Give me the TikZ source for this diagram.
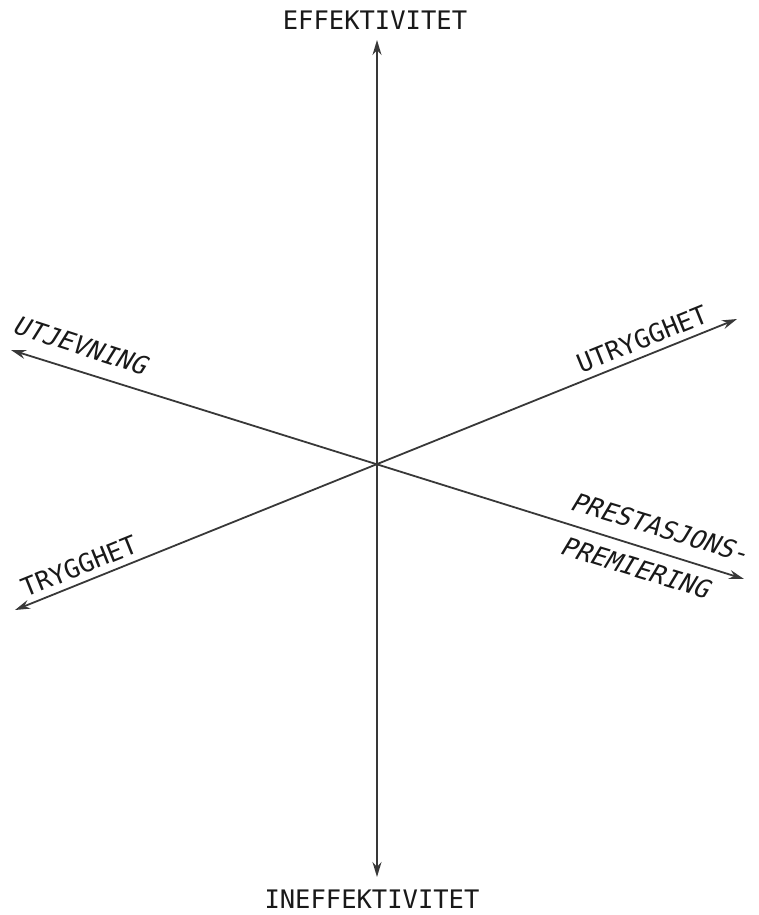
\documentclass[tikz,border=0pt]{standalone}
\usepackage{fontspec}
\usetikzlibrary{arrows.meta}
\newfontfamily\axisfont{DejaVu Sans Mono}

\begin{document}
\begin{tikzpicture}[x=1pt,y=-1pt,>={Stealth[length=15pt,width=9pt]},ax/.style={<->,line width=1.8pt,draw=black!78},lbl/.style={font=\axisfont\fontsize{25.5}{28}\selectfont,inner sep=0pt,text=black!90},ital/.style={xslant=0.25}]
\useasboundingbox (0,0) rectangle (759,915);
% axis end points
\coordinate (o) at (377,464);
\coordinate (n) at (377,40);
\coordinate (s) at (377,877);
\coordinate (ul) at (11,350);
\coordinate (lr) at (744,579);
\coordinate (ur) at (737,319);
\coordinate (ll) at (15,610);
\draw[ax](n)--(s);\draw[ax](ul)--(lr);\draw[ax](ll)--(ur);
% labels
\node[lbl,anchor=base] (eff) at (375,30){EFFEKTIVITET};
\node[lbl,anchor=base] (ineff) at (372,908){INEFFEKTIVITET};
\node[lbl,rotate=-18,ital] (utj) at (82,346){UTJEVNING};
\node[lbl,rotate=22] (utr) at (642,339){UTRYGGHET};
\node[lbl,rotate=22] (tryg) at (79,566){TRYGGHET};
\node[lbl,rotate=-17,ital] (prest) at (662,528){PRESTASJONS-};
\node[lbl,rotate=-17,ital] (prem) at (637,568){PREMIERING};
\end{tikzpicture}
\end{document}
